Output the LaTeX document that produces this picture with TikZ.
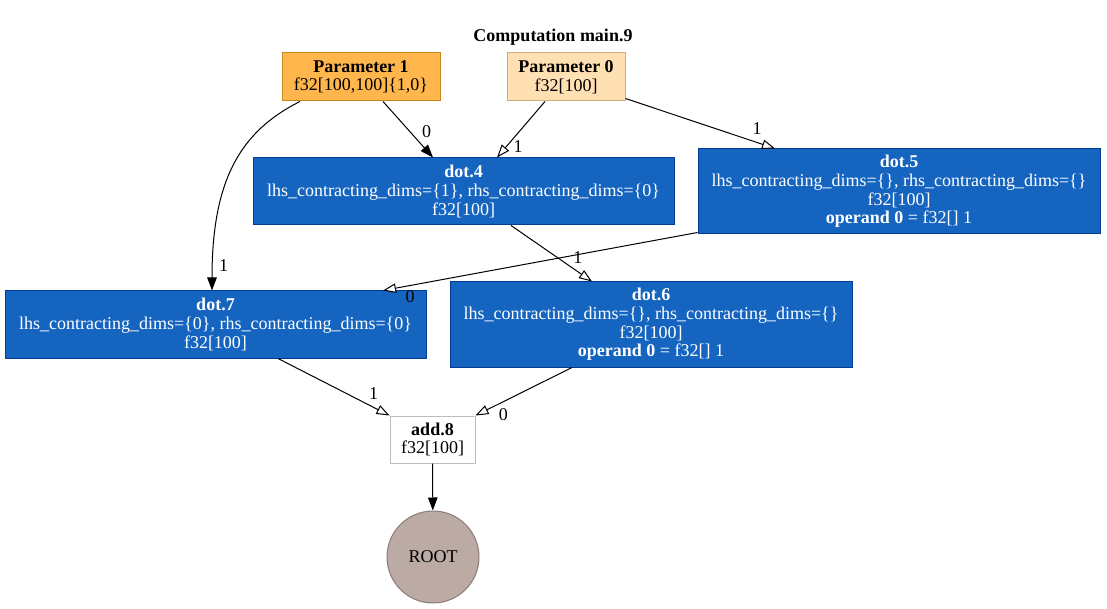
\documentclass[tikz,border=0pt]{standalone}
\usepackage{fontspec}
\setmainfont{Liberation Serif}
\usetikzlibrary{arrows.meta}
\definecolor{azul}{HTML}{1565C0}
\definecolor{azulb}{HTML}{003C8F}
\definecolor{laranja}{HTML}{FFB74D}
\definecolor{laranjab}{HTML}{C88719}
\definecolor{creme}{HTML}{FFE0B2}
\definecolor{cremeb}{HTML}{CBAE82}
\definecolor{marrom}{HTML}{BCAAA4}
\definecolor{marromb}{HTML}{8C7B75}
\definecolor{cinza}{HTML}{BDBDBD}
\def\fonte{\fontsize{18}{18.7}\selectfont}

\begin{document}
\begin{tikzpicture}[x=1pt,y=-1pt,line width=1pt,
	caixa/.style={draw,inner sep=0pt,align=center,font=\fonte},
	dotn/.style={caixa,fill=azul,draw=azulb,text=white},
	rot/.style={font=\fonte,inner sep=0pt},
	cheio/.style={-{Triangle[length=13pt,width=9.5pt]}},
	vazio/.style={-{Triangle[open,length=13pt,width=9.5pt,fill=white]}}]
	
	\useasboundingbox (0,0) rectangle (1107,609);
	\node[rot] (tit) at (553,37) {\textbf{Computation main.9}};
	
%	parametros
	\node[caixa,fill=laranja,draw=laranjab,minimum width=158pt,minimum height=48pt] (p1) at (361,77) {\textbf{Parameter 1}\\f32[100,100]\{1,0\}};
	\node[caixa,fill=creme,draw=cremeb,minimum width=118pt,minimum height=48pt] (p0) at (566,77) {\textbf{Parameter 0}\\f32[100]};
	
%	nos dot
	\node[dotn,minimum width=421pt,minimum height=67pt] (d4) at (463.5,191.5) {\textbf{dot.4}\\lhs\_contracting\_dims=\{1\}, rhs\_contracting\_dims=\{0\}\\f32[100]};
	\node[dotn,minimum width=402pt,minimum height=85pt] (d5) at (899,191.5) {\textbf{dot.5}\\lhs\_contracting\_dims=\{\}, rhs\_contracting\_dims=\{\}\\f32[100]\\\textbf{operand 0} = f32[] 1};
	\node[dotn,minimum width=421pt,minimum height=67pt] (d7) at (215.5,324.5) {\textbf{dot.7}\\lhs\_contracting\_dims=\{0\}, rhs\_contracting\_dims=\{0\}\\f32[100]};
	\node[dotn,minimum width=402pt,minimum height=85pt] (d6) at (651,324.5) {\textbf{dot.6}\\lhs\_contracting\_dims=\{\}, rhs\_contracting\_dims=\{\}\\f32[100]\\\textbf{operand 0} = f32[] 1};
	
%	soma e raiz
	\node[caixa,fill=white,draw=cinza,minimum width=85pt,minimum height=47pt] (a8) at (432.5,439.5) {\textbf{add.8}\\f32[100]};
	\node[circle,draw=marromb,fill=marrom,minimum size=92pt,inner sep=0pt,font=\fonte] (rt) at (433,557) {ROOT};
	
%	arestas
	\draw[cheio] ([xshift=22pt]p1.south) -- ([xshift=-30.5pt]d4.north) node[rot,pos=0.53,xshift=17pt] {0};
	\draw[cheio] ([xshift=-61pt]p1.south) .. controls +(-60,30) and +(0,-110) .. ([xshift=-3.5pt]d7.north) node[rot,pos=0.92,xshift=11pt] {1};
	\draw[vazio] ([xshift=-21pt]p0.south) -- ([xshift=33.5pt]d4.north) node[rot,pos=0.81,xshift=12pt] {1};
	\draw[vazio] ([yshift=3pt]p0.south east) -- ([xshift=-124pt]d5.north) node[rot,pos=0.88,yshift=14pt] {1};
	\draw[vazio] ([xshift=47.5pt]d4.south) -- ([xshift=-59pt]d6.north) node[rot,pos=0.58,xshift=20pt] {1};
	\draw[vazio] ([yshift=2pt]d5.south west) -- ([xshift=167.5pt]d7.north) node[rot,pos=0.914,yshift=-11pt] {0};
	\draw[vazio] ([xshift=62.5pt]d7.south) -- (a8.north west) node[rot,pos=0.857,yshift=14pt] {1};
	\draw[vazio] ([xshift=-79pt]d6.south) -- (a8.north east) node[rot,pos=0.711,yshift=-13pt] {0};
	\draw[cheio] (a8) -- (rt);
\end{tikzpicture}
\end{document}
